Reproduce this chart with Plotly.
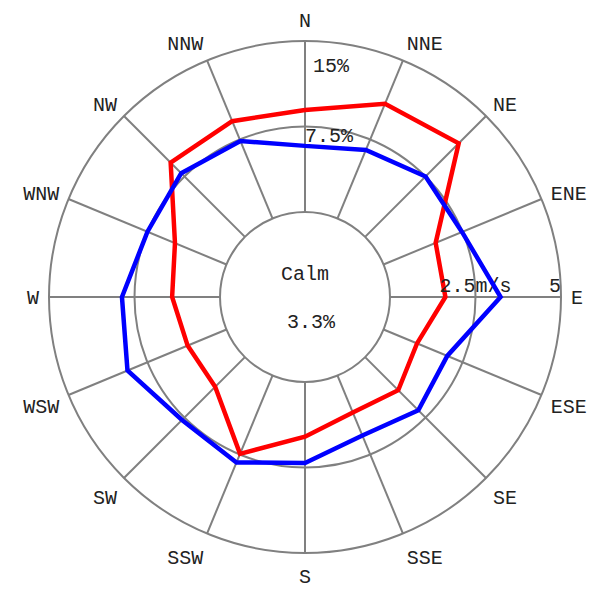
import plotly.graph_objects as go

directions = ["N", "NNE", "NE", "ENE", "E", "ESE", "SE", "SSE",
              "S", "SSW", "SW", "WSW", "W", "WNW", "NW", "NNW"]

# mean wind speed (m/s) per direction - red
speed_ms = [2.98, 3.63, 3.87, 1.65, 1.62, 1.06, 1.37, 1.17,
            1.60, 2.48, 1.23, 1.23, 1.40, 1.63, 3.07, 3.08]

# frequency (%) per direction - blue
freq_pct = [5.8, 6.5, 7.5, 7.45, 9.7, 6.05, 6.6, 5.7,
            7.1, 8.25, 7.8, 9.4, 8.6, 7.5, 7.9, 7.35]

speed_ticks = [2.5, 5]
speed_tick_text = ["2.5m/s", "5"]
freq_inner_tick = 7.5
freq_inner_text = "7.5%"
freq_outer_text = "15%"
calm_label = "Calm"
calm_value = "3.3%"

FONT = "Liberation Mono"
GRID = "#808080"
TXT = "#222222"

fig = go.Figure()

# red speed line (closed)
fig.add_trace(go.Scatterpolar(
    r=speed_ms + speed_ms[:1], theta=directions + directions[:1],
    mode="lines", line=dict(color="#ff0000", width=4.5),
    subplot="polar", showlegend=False, hoverinfo="skip"))

fig.add_trace(go.Scatterpolar(
    r=speed_ticks, theta=["E", "E"], mode="text", text=speed_tick_text,
    textposition=["top center", "top left"],
    textfont=dict(family=FONT, size=20, color=TXT),
    subplot="polar", showlegend=False, hoverinfo="skip"))

# blue frequency line (closed)
fig.add_trace(go.Scatterpolar(
    r=freq_pct + freq_pct[:1], theta=directions + directions[:1],
    mode="lines", line=dict(color="#0000ff", width=4.5),
    subplot="polar2", showlegend=False, hoverinfo="skip"))

fig.add_trace(go.Scatterpolar(
    r=[freq_inner_tick], theta=["N"], mode="text", text=[freq_inner_text],
    textposition="bottom right",
    textfont=dict(family=FONT, size=20, color=TXT),
    subplot="polar2", showlegend=False, hoverinfo="skip"))

HOLE = 0.332
fig.update_layout(
    width=605, height=590,
    margin=dict(l=41, r=52, t=33, b=45),
    paper_bgcolor="white", plot_bgcolor="white",
    font=dict(family=FONT, size=20, color=TXT),
    polar=dict(
        domain=dict(x=[0, 1], y=[0, 1]),
        hole=HOLE, bgcolor="white",
        angularaxis=dict(
            type="category", categoryarray=directions,
            rotation=90, direction="clockwise",
            showline=True, linecolor=GRID, linewidth=2,
            showgrid=True, gridcolor=GRID, gridwidth=2,
            ticks="outside", ticklen=5, tickcolor="rgba(0,0,0,0)",
            tickfont=dict(family=FONT, size=20, color=TXT)),
        radialaxis=dict(
            range=[0, 5], tickvals=[0, 2.5, 5],
            showticklabels=False, ticks="", showline=False,
            showgrid=True, gridcolor=GRID, gridwidth=2),
    ),
    polar2=dict(
        domain=dict(x=[0, 1], y=[0, 1]),
        hole=HOLE, bgcolor="rgba(0,0,0,0)",
        angularaxis=dict(
            type="category", categoryarray=directions,
            rotation=90, direction="clockwise",
            showline=False, showgrid=False, showticklabels=False, ticks=""),
        radialaxis=dict(
            range=[0, 15], showticklabels=False, ticks="",
            showline=False, showgrid=False),
    ),
    annotations=[
        # outer (15%) label sits just inside the outer ring, right of the N spoke
        dict(text=freq_outer_text, x=0.5, y=1.0, xref="paper", yref="paper",
             xanchor="left", yanchor="middle", showarrow=False,
             xshift=6, yshift=-25,
             font=dict(family=FONT, size=20, color=TXT)),
        dict(text=calm_label, x=0.5, y=0.5, xref="paper", yref="paper",
             showarrow=False, yshift=23,
             font=dict(family=FONT, size=20, color=TXT)),
        dict(text=calm_value, x=0.5, y=0.5, xref="paper", yref="paper",
             showarrow=False, yshift=-25, xshift=6,
             font=dict(family=FONT, size=20, color=TXT)),
    ],
)

fig.write_html("out.html")
